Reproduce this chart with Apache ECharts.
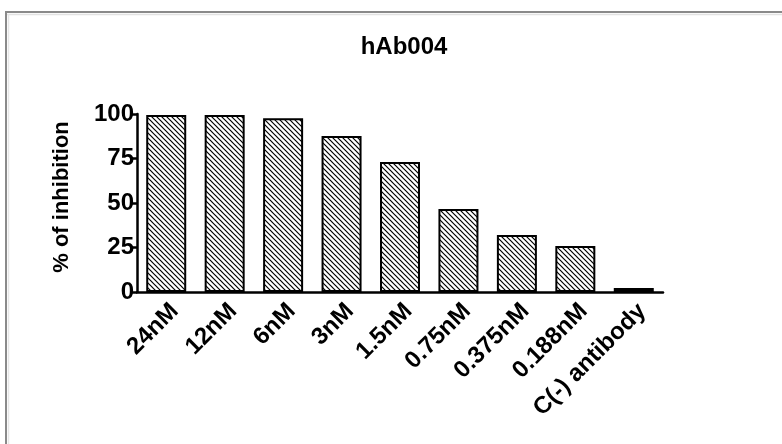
<!DOCTYPE html>
<html>
<head>
<meta charset="utf-8">
<script src="https://cdn.jsdelivr.net/npm/echarts@6/dist/echarts.min.js"></script>
<style>
html,body{margin:0;padding:0;background:#fff;}
#chart{width:782px;height:444px;}
</style>
</head>
<body>
<div id="chart"></div>
<script>
const categories = ['24nM', '12nM', '6nM', '3nM', '1.5nM', '0.75nM', '0.375nM', '0.188nM', 'C(-) antibody'];
const inhibition = [99.4, 99.4, 97.6, 87.7, 73.0, 46.6, 32.0, 25.8, 2.2];
const yTicks = [0, 25, 50, 75, 100];
const titleText = 'hAb004';
const yAxisTitle = '% of inhibition';

function hatch() {
  const s = 5;
  const c = document.createElement('canvas');
  c.width = s; c.height = s;
  const g = c.getContext('2d');
  g.fillStyle = '#fff';
  g.fillRect(0, 0, s, s);
  g.strokeStyle = '#000';
  g.lineWidth = 1.2;
  for (let o = -s; o <= s; o += s) {
    g.beginPath();
    g.moveTo(o - 1, -1);
    g.lineTo(o + s + 1, s + 1);
    g.stroke();
  }
  return c;
}

const FONT = '"Liberation Sans", Arial, sans-serif';
const chart = echarts.init(document.getElementById('chart'), null, {renderer: 'canvas'});
chart.setOption({
  animation: false,
  backgroundColor: '#fff',
  graphic: [
    {type: 'rect', shape: {x: 6, y: 12, width: 820, height: 480}, style: {fill: 'none', stroke: '#8a8a8a', lineWidth: 2}, z: 0},
    {type: 'line', shape: {x1: 7, y1: 14.5, x2: 800, y2: 14.5}, style: {stroke: '#e2e2e2', lineWidth: 1.5}, z: 0},
    {type: 'line', shape: {x1: 8.5, y1: 14, x2: 8.5, y2: 460}, style: {stroke: '#e6e6e6', lineWidth: 1.5}, z: 0}
  ],
  title: {
    text: titleText,
    left: 399, top: 30,
    textAlign: 'center',
    textStyle: {fontFamily: FONT, fontWeight: 'bold', fontSize: 24, color: '#000'}
  },
  grid: {left: 137, right: 119, top: 114, bottom: 152, containLabel: false},
  xAxis: {
    type: 'category',
    data: categories,
    axisLine: {lineStyle: {color: '#000', width: 2.5}},
    axisTick: {show: false},
    axisLabel: {
      rotate: 45, margin: 7, interval: 0, verticalAlign: 'top',
      fontFamily: FONT, fontWeight: 'bold', fontSize: 24, color: '#000'
    }
  },
  yAxis: {
    type: 'value',
    min: yTicks[0], max: yTicks[yTicks.length - 1], interval: 25,
    name: yAxisTitle,
    nameLocation: 'middle',
    nameGap: 64,
    nameRotate: 90,
    nameTextStyle: {fontFamily: FONT, fontWeight: 'bold', fontSize: 22, color: '#000', padding: [0, 0, 0, 12]},
    splitLine: {show: false},
    axisLine: {show: true, lineStyle: {color: '#000', width: 2.5}},
    axisTick: {show: true, length: 6, lineStyle: {color: '#000', width: 2.5}},
    axisLabel: {margin: 3, fontFamily: FONT, fontWeight: 'bold', fontSize: 24, color: '#000'}
  },
  series: [{
    type: 'bar',
    data: inhibition,
    barWidth: 40,
    itemStyle: {
      color: {image: hatch(), repeat: 'repeat'},
      borderColor: '#000',
      borderWidth: 2
    }
  }]
});
</script>
</body>
</html>
